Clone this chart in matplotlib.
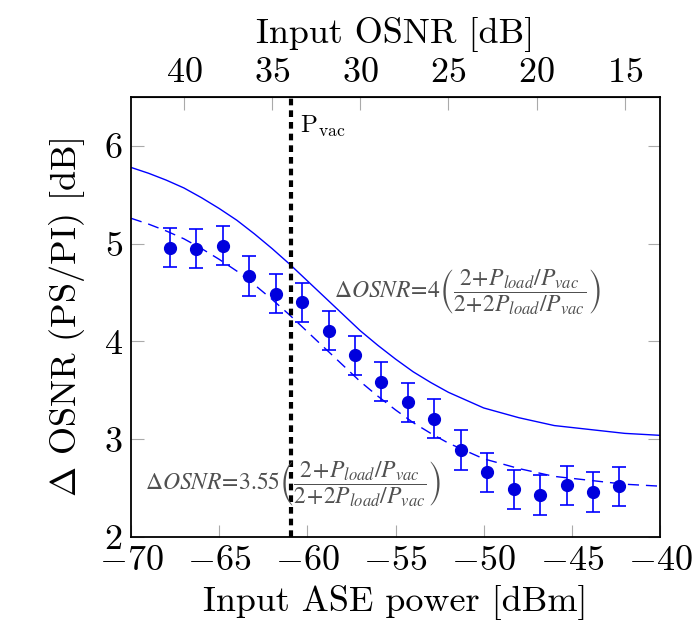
import matplotlib
matplotlib.use("Agg")
import matplotlib.pyplot as plt

plt.rcParams["font.family"] = "serif"
plt.rcParams["font.serif"] = ["cmr10"]
plt.rcParams["mathtext.fontset"] = "cm"
plt.rcParams["axes.formatter.use_mathtext"] = True
plt.rcParams["font.size"] = 26

# measured points
ase_power = [-67.8, -66.3, -64.8, -63.3, -61.8, -60.3, -58.8, -57.3, -55.8,
             -54.3, -52.8, -51.3, -49.8, -48.3, -46.8, -45.3, -43.8, -42.3]
delta_osnr = [4.96, 4.95, 4.98, 4.67, 4.49, 4.40, 4.11, 3.86, 3.59,
              3.38, 3.21, 2.89, 2.66, 2.49, 2.43, 2.53, 2.46, 2.52]
delta_err = [0.2] * 18

# model curves
curve_x = list(range(-70, -39))
curve_solid = [5.78, 5.72, 5.65, 5.57, 5.47, 5.36, 5.24, 5.10, 4.95, 4.79, 4.62,
               4.45, 4.28, 4.11, 3.96, 3.82, 3.69, 3.58, 3.48, 3.40, 3.32,
               3.27, 3.22, 3.18, 3.14, 3.12, 3.10, 3.08, 3.06, 3.05, 3.04]
curve_dashed = [5.26, 5.20, 5.13, 5.05, 4.95, 4.84, 4.72, 4.58, 4.43, 4.27, 4.10,
                3.93, 3.76, 3.59, 3.44, 3.30, 3.17, 3.06, 2.96, 2.88, 2.80,
                2.75, 2.70, 2.66, 2.62, 2.60, 2.58, 2.56, 2.54, 2.53, 2.52]

p_vac = -60.9
osnr_ticks = [40, 35, 30, 25, 20, 15]

fig = plt.figure(figsize=(6.98, 6.24), dpi=100)
ax = fig.add_axes([0.1877, 0.1394, 0.7579, 0.7051])

ax.plot(curve_x, curve_solid, c="blue", lw=1.0)
ax.plot(curve_x, curve_dashed, c="blue", lw=1.0, ls=(0, (8, 5)))
ax.errorbar(ase_power, delta_osnr, yerr=delta_err, fmt="o", c="#0000dd",
            ms=8.5, ecolor="blue", elinewidth=1.2, capsize=5, capthick=1.2)
ax.axvline(p_vac, c="black", lw=3, ls=(0, (1.6, 1.2)))

ax.text(-60.4, 6.2, r"$\mathrm{P_{vac}}$", fontsize=18, va="center")

eq_kw = dict(fontsize=17, color="#505050", math_fontfamily="stix",
             ha="center", va="center")
ax.text(-50.9, 4.51,
        r"$\Delta OSNR\!=\!4\left(\dfrac{2\!+\!P_{load}/P_{vac}}{2\!+\!2P_{load}/P_{vac}}\right)$",
        **eq_kw)
ax.text(-60.8, 2.54,
        r"$\Delta OSNR\!=\!3.55\left(\dfrac{2\!+\!P_{load}/P_{vac}}{2\!+\!2P_{load}/P_{vac}}\right)$",
        **eq_kw)

ax.set_xlim(-70, -40)
ax.set_ylim(2, 6.5)
ax.set_xticks([-70, -65, -60, -55, -50, -45, -40])
ax.set_yticks([2, 3, 4, 5, 6])
ax.tick_params(direction="in", length=9, color="#aaaaaa", right=True, pad=6)
for s in ax.spines.values():
    s.set_linewidth(1.3)

ax.set_xlabel("Input ASE power [dBm]", labelpad=6)
ax.set_ylabel(r"$\Delta$ OSNR (PS/PI) [dB]", labelpad=12)

top = ax.secondary_xaxis("top", functions=(lambda p: -27 - p, lambda o: -27 - o))
top.set_xticks(osnr_ticks)
top.tick_params(direction="in", length=9, color="#aaaaaa", pad=6)
top.set_xlabel("Input OSNR [dB]", labelpad=10)

plt.savefig("out.png", dpi=100)
